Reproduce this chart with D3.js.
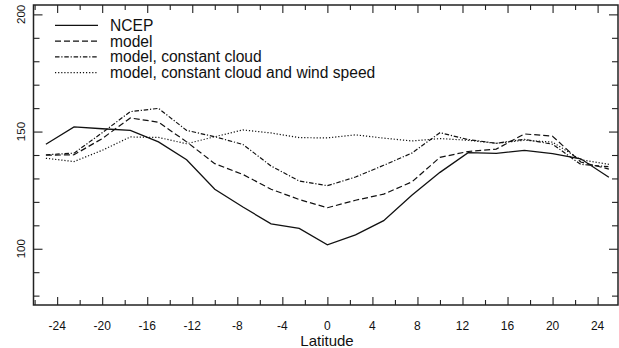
<!DOCTYPE html>
<html><head><meta charset="utf-8">
<script src="https://cdn.jsdelivr.net/npm/d3@7"></script>
<style>
body{margin:0;background:#fff}
svg text{font-family:"Liberation Sans",Arial,Helvetica,sans-serif;fill:#111}
</style>
</head><body>
<svg id="chart" width="619" height="348"></svg>
<script>
// Latitude grid of the zonal-mean curves (degrees)
const latitudes = [-25,-22.5,-20,-17.5,-15,-12.5,-10,-7.5,-5,-2.5,0,2.5,5,7.5,10,12.5,15,17.5,20,22.5,25];

const ncep = [144.6,152.0,151.2,150.5,145.6,138.0,125.4,117.8,110.6,108.7,101.7,105.9,112.0,122.8,132.6,141.0,140.7,142.0,140.6,138.4,130.5];
const model = [139.9,140.1,147.0,155.8,154.0,145.6,136.3,131.7,125.4,121.0,117.5,120.7,123.3,128.5,139.0,141.5,142.5,149.0,148.0,137.0,134.0];
const modelConstCloud = [140.1,140.8,149.5,158.5,159.9,150.5,147.8,144.5,135.3,128.9,126.9,130.6,135.6,140.8,149.5,146.6,145.0,146.7,144.6,136.0,135.0];
const modelConstCloudWind = [138.6,137.2,142.0,147.7,147.5,144.8,147.8,150.7,149.4,147.4,147.3,148.6,147.2,146.0,147.0,146.3,145.0,146.3,145.5,138.0,136.0];

const seriesNames = ["NCEP","model","model, constant cloud","model, constant cloud and wind speed"];
const seriesValues = [ncep, model, modelConstCloud, modelConstCloudWind];
const seriesDash = [null, "6,3", "4.5,1.8,1.2,1.8", "1.2,1.9"];

const xMajorTicks = [-24,-20,-16,-12,-8,-4,0,4,8,12,16,20,24];
const xMinorTicks = [-26,-22,-18,-14,-10,-6,-2,2,6,10,14,18,22];
const yMajorTicks = [100,150,200];
const yMinorTicks = [80,90,110,120,130,140,160,170,180,190];
const xTitle = "Latitude";

const svg = d3.select("#chart");
const L = 33.5, R = 618, T = 5, B = 305;

const x = d3.scaleLinear().domain([-26.1, 25.9]).range([L, 619]);
const y = d3.scaleLinear().domain([76, 204]).range([B, T]);

// tick marks on all four sides, pointing into the plot
function ticks(axisGen, transform, values, size) {
  const g = svg.append("g").attr("transform", transform)
    .call(axisGen.tickValues(values).tickSize(size).tickSizeOuter(0).tickFormat(""));
  g.select(".domain").remove();
  g.selectAll("line").attr("stroke", "#222").attr("stroke-width", 1.1);
  return g;
}
ticks(d3.axisBottom(x), `translate(0,${B})`, xMajorTicks, -8);
ticks(d3.axisBottom(x), `translate(0,${B})`, xMinorTicks, -5);
ticks(d3.axisTop(x), `translate(0,${T})`, xMajorTicks, -8);
ticks(d3.axisTop(x), `translate(0,${T})`, xMinorTicks, -5);
ticks(d3.axisLeft(y), `translate(${L},0)`, yMajorTicks, -9);
ticks(d3.axisLeft(y), `translate(${L},0)`, yMinorTicks, -6);
ticks(d3.axisRight(y), `translate(${R},0)`, yMajorTicks, -9);
ticks(d3.axisRight(y), `translate(${R},0)`, yMinorTicks, -6);

// frame
svg.append("rect").attr("x", L).attr("y", T).attr("width", R - L).attr("height", B - T)
  .attr("fill", "none").attr("stroke", "#222").attr("stroke-width", 1.5);

// tick labels
svg.append("g").selectAll("text").data(xMajorTicks).join("text")
  .attr("x", d => x(d)).attr("y", 329.5)
  .attr("text-anchor", "middle").attr("font-size", 12)
  .text(d => d);
svg.append("g").selectAll("text").data(yMajorTicks).join("text")
  .attr("transform", d => `translate(25,${y(d)}) rotate(-90)`)
  .attr("text-anchor", "middle").attr("font-size", 11.5)
  .text(d => d);

svg.append("text").attr("x", 327).attr("y", 346).attr("text-anchor", "middle")
  .attr("font-size", 15).text(xTitle);

// curves
const line = d3.line().x(d => x(d[0])).y(d => y(d[1]));
seriesValues.forEach((vals, i) => {
  svg.append("path")
    .datum(latitudes.map((lat, j) => [lat, vals[j]]))
    .attr("d", line)
    .attr("fill", "none").attr("stroke", "#111")
    .attr("stroke-width", i === 0 ? 1.3 : 1.2)
    .attr("stroke-dasharray", seriesDash[i]);
});

// legend
const legend = svg.append("g");
seriesNames.forEach((name, i) => {
  const cy = 25.3 + i * 15.8;
  legend.append("line").attr("x1", 55).attr("x2", 98).attr("y1", cy).attr("y2", cy)
    .attr("stroke", "#111").attr("stroke-width", i === 0 ? 1.3 : 1.2)
    .attr("stroke-dasharray", seriesDash[i]);
  legend.append("text").attr("x", 110).attr("y", cy + 5.5)
    .attr("font-size", 15.6).text(name);
});
</script>
</body></html>
